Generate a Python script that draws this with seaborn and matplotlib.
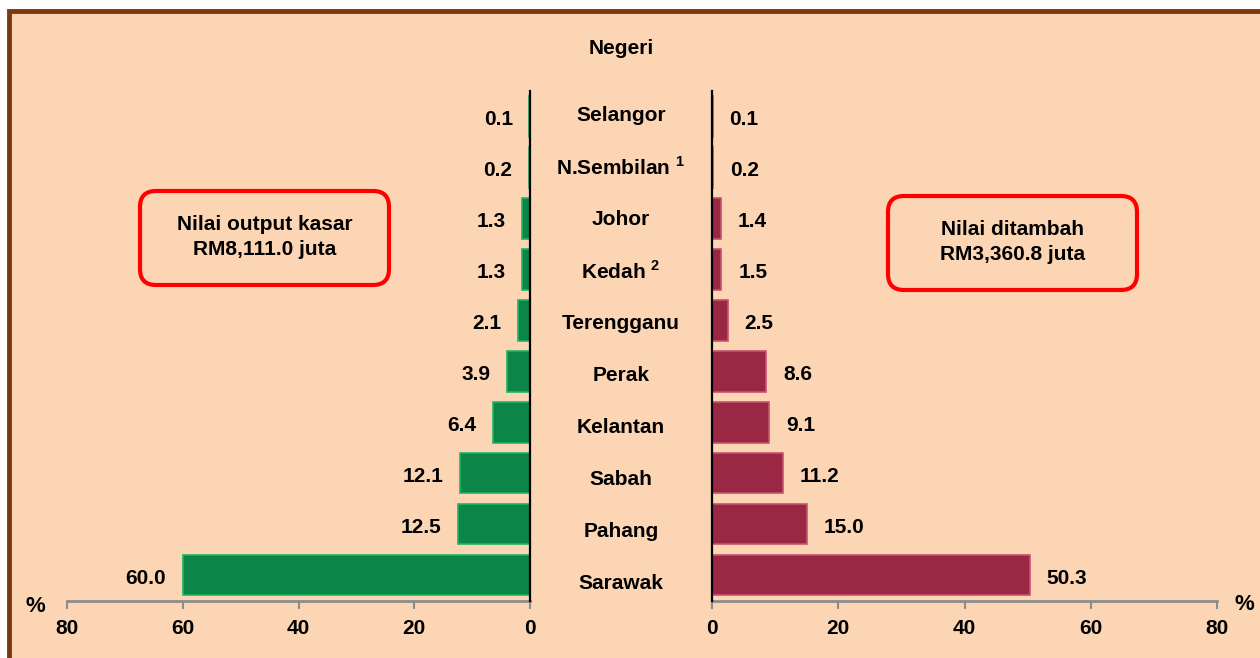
import matplotlib
matplotlib.use("Agg")
import matplotlib.pyplot as plt
from matplotlib.patches import FancyBboxPatch, Rectangle
from matplotlib.transforms import blended_transform_factory
import pandas as pd
import seaborn as sns

negeri = ["Selangor", "N.Sembilan", "Johor", "Kedah", "Terengganu",
          "Perak", "Kelantan", "Sabah", "Pahang", "Sarawak"]
label_negeri = ["Selangor", r"N.Sembilan $^{\mathbf{1}}$", "Johor", r"Kedah $^{\mathbf{2}}$",
                "Terengganu", "Perak", "Kelantan", "Sabah", "Pahang", "Sarawak"]
output_kasar = [0.1, 0.2, 1.3, 1.3, 2.1, 3.9, 6.4, 12.1, 12.5, 60.0]
nilai_ditambah = [0.1, 0.2, 1.4, 1.5, 2.5, 8.6, 9.1, 11.2, 15.0, 50.3]
ticks = [0, 20, 40, 60, 80]

sns.set_style("white")
plt.rcParams.update({
    "font.family": ["Liberation Sans", "DejaVu Sans"],
    "font.weight": "bold",
    "text.color": "black",
    "xtick.color": "black",
    "mathtext.fontset": "custom",
    "mathtext.bf": "Liberation Sans:bold",
    "mathtext.rm": "Liberation Sans:bold",
})

BG = "#FCD5B5"
FS = 15

df = pd.DataFrame({"negeri": negeri, "output": output_kasar, "tambah": nilai_ditambah})

fig = plt.figure(figsize=(12.6, 6.58), dpi=100)
fig.patch.set_facecolor("white")

# background frame in pixel coords
bg = fig.add_axes([0, 0, 1, 1])
bg.set_xlim(0, 1260)
bg.set_ylim(658, 0)
bg.axis("off")
bg.add_patch(Rectangle((9, 11), 1300, 700, facecolor=BG, edgecolor="#7B3A0E", lw=3.5))

axL = fig.add_axes([67 / 1260, 1 - 601 / 658, (530 - 67) / 1260, (601 - 91) / 658])
axR = fig.add_axes([712 / 1260, 1 - 601 / 658, (1217 - 712) / 1260, (601 - 91) / 658])

sns.barplot(data=df, y="negeri", x="output", ax=axL, orient="h", color="#0B8646",
            saturation=1, edgecolor="#1FB565", linewidth=1.2, width=0.8)
sns.barplot(data=df, y="negeri", x="tambah", ax=axR, orient="h", color="#9A2744",
            saturation=1, edgecolor="#C9536F", linewidth=1.2, width=0.8)

for ax, side in [(axL, "L"), (axR, "R")]:
    ax.set_facecolor("none")
    ax.set_ylim(9.51, -0.5)
    ax.set_xticks(ticks)
    ax.set_xticklabels([str(t) for t in ticks], fontsize=FS, fontweight="bold")
    ax.set_yticks([])
    ax.set_xlabel("")
    ax.set_ylabel("")
    ax.tick_params(axis="x", bottom=True, direction="out", length=6, width=1.5,
                   color="#8C8C8C", labelcolor="black", pad=7)
    for s in ax.spines.values():
        s.set_visible(False)
    ax.spines["bottom"].set_visible(True)
    ax.spines["bottom"].set_color("#8C8C8C")
    ax.spines["bottom"].set_linewidth(2)
    zero = "right" if side == "L" else "left"
    ax.spines[zero].set_visible(True)
    ax.spines[zero].set_color("black")
    ax.spines[zero].set_linewidth(1.6)
    ax.spines[zero].set_zorder(5)

axL.set_xlim(80, 0)
axR.set_xlim(0, 80)

for i, v in enumerate(output_kasar):
    axL.annotate(f"{v:.1f}", (v, i), xytext=(-12, -2.5), textcoords="offset points",
                 ha="right", va="center", fontsize=FS, fontweight="bold")
for i, v in enumerate(nilai_ditambah):
    axR.annotate(f"{v:.1f}", (v, i), xytext=(12, -2.5), textcoords="offset points",
                 ha="left", va="center", fontsize=FS, fontweight="bold")

tr = blended_transform_factory(fig.transFigure, axL.transData)
for i, lab in enumerate(label_negeri):
    fig.text(621 / 1260, i * 1.02 - 0.01, lab, transform=tr, ha="center", va="center",
             fontsize=FS, fontweight="bold")

fig.text(621 / 1260, 1 - 48 / 658, "Negeri", ha="center", va="center", fontsize=FS, fontweight="bold")
fig.text(35 / 1260, 1 - 607 / 658, "%", ha="center", va="center", fontsize=FS + 1, fontweight="bold")
fig.text(1244 / 1260, 1 - 605 / 658, "%", ha="center", va="center", fontsize=FS + 1, fontweight="bold")

# red boxes
for (x0, y0, x1, y1), txt in [((140, 191, 389, 285), "Nilai output kasar\nRM8,111.0 juta"),
                              ((888, 196, 1137, 290), "Nilai ditambah\nRM3,360.8 juta")]:
    bg.add_patch(FancyBboxPatch((x0, y0), x1 - x0, y1 - y0,
                                boxstyle="round,pad=0,rounding_size=16",
                                facecolor="none", edgecolor="#FF0000", lw=3))
    bg.text((x0 + x1) / 2, (y0 + y1) / 2 - 1, txt, ha="center", va="center",
            fontsize=FS, fontweight="bold", linespacing=1.4)

fig.savefig("out.png", dpi=100, facecolor=fig.get_facecolor())
